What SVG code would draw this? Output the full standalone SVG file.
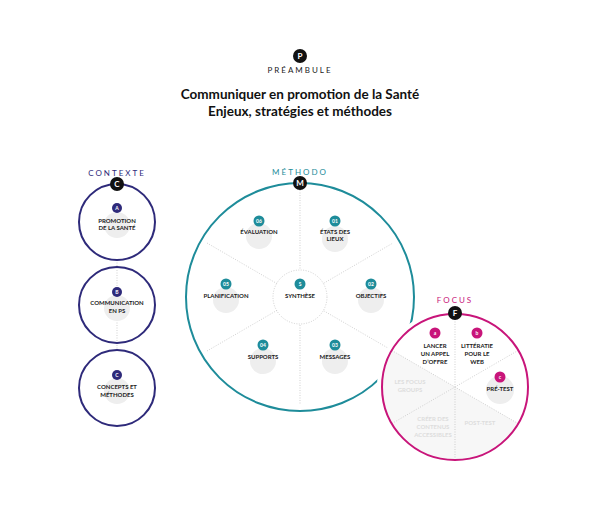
<svg xmlns="http://www.w3.org/2000/svg" width="600" height="532" viewBox="0 0 600 532">
<style>
text{font-family:"Lato","Liberation Sans",sans-serif;text-anchor:middle}
.t{font-size:6px;font-weight:bold;fill:#222}
.g{font-size:6px;font-weight:bold;fill:#ddd}
.bt{font-size:6px;font-weight:bold;fill:#fff}
.dot{stroke:#bbb;stroke-width:0.7;stroke-dasharray:1 1.5;fill:none}
.bg{fill:#eee}
</style>
<rect width="600" height="532" fill="#fff"/>
<g id="header">
<circle cx="300" cy="56" r="7" fill="#111"/><text x="300" y="59" class="bt" style="font-size:8px">P</text>
<text x="300" y="73" style="font-size:8px;letter-spacing:2px;fill:#222">PRÉAMBULE</text>
<text x="300" y="99" style="font-size:13.5px;font-weight:bold;fill:#111">Communiquer en promotion de la Santé</text>
<text x="300" y="116" style="font-size:13.5px;font-weight:bold;fill:#111">Enjeux, stratégies et méthodes</text>
</g>
<g id="contexte">
<text x="117" y="176" style="font-size:8px;letter-spacing:2px;fill:#2e2a7a">CONTEXTE</text>
<line x1="117" y1="260" x2="117" y2="350" class="dot"/>
<circle cx="117" cy="222" r="38" fill="none" stroke="#2e2a7a" stroke-width="2"/>
<circle cx="117" cy="305" r="38" fill="none" stroke="#2e2a7a" stroke-width="2"/>
<circle cx="117" cy="388" r="38" fill="none" stroke="#2e2a7a" stroke-width="2"/>
<circle cx="117" cy="184" r="7" fill="#111"/><text x="117" y="187" class="bt" style="font-size:8px">C</text>
</g>
<g id="ctxA"><circle cx="117" cy="225" r="13" class="bg"/><circle cx="117" cy="208" r="5" fill="#2e2a7a"/><text x="117" y="210" class="bt" style="font-size:5px">A</text><text x="117" y="223" class="t">PROMOTION</text><text x="117" y="230" class="t">DE LA SANTÉ</text></g>
<g id="ctxB"><circle cx="117" cy="308" r="13" class="bg"/><circle cx="117" cy="292" r="5" fill="#2e2a7a"/><text x="117" y="294" class="bt" style="font-size:5px">B</text><text x="117" y="305" class="t">COMMUNICATION</text><text x="117" y="313" class="t">EN PS</text></g>
<g id="ctxC"><circle cx="117" cy="391" r="13" class="bg"/><circle cx="117" cy="375" r="5" fill="#2e2a7a"/><text x="117" y="377" class="bt" style="font-size:5px">C</text><text x="117" y="389" class="t">CONCEPTS ET</text><text x="117" y="397" class="t">MÉTHODES</text></g>
<g id="connectors">
<line x1="300" y1="190" x2="300" y2="404" class="dot"/>
<line x1="207" y1="243" x2="393" y2="351" class="dot"/>
<line x1="207" y1="351" x2="393" y2="243" class="dot"/>
<circle cx="300" cy="297" r="27" fill="#fff" stroke="#bbb" stroke-width="0.7" stroke-dasharray="1 1.5"/>
</g>
<g id="methodo">
<text x="300" y="175" style="font-size:8px;letter-spacing:2px;fill:#1e8c9a">MÉTHODO</text>
<circle cx="300" cy="297" r="114" fill="none" stroke="#1e8c9a" stroke-width="2"/>
<circle cx="300" cy="183" r="7" fill="#111"/><text x="300" y="186" class="bt" style="font-size:8px">M</text>
</g>
<g id="m06"><circle cx="259" cy="236" r="13" class="bg"/><circle cx="259" cy="221" r="5.5" fill="#1e8c9a"/><text x="259" y="223" class="bt" style="font-size:5px">06</text><text x="259" y="234" class="t">ÉVALUATION</text></g>
<g id="m01"><circle cx="335" cy="239" r="13" class="bg"/><circle cx="335" cy="221" r="5.5" fill="#1e8c9a"/><text x="335" y="223" class="bt" style="font-size:5px">01</text><text x="335" y="234" class="t">ÉTATS DES</text><text x="335" y="241" class="t">LIEUX</text></g>
<g id="m05"><circle cx="226" cy="300" r="13" class="bg"/><circle cx="226" cy="284" r="5.5" fill="#1e8c9a"/><text x="226" y="286" class="bt" style="font-size:5px">05</text><text x="226" y="298" class="t">PLANIFICATION</text></g>
<g id="mS"><circle cx="300" cy="284" r="5.5" fill="#1e8c9a"/><text x="300" y="286" class="bt" style="font-size:5px">S</text><text x="300" y="298" class="t">SYNTHÈSE</text></g>
<g id="m02"><circle cx="371" cy="300" r="13" class="bg"/><circle cx="371" cy="284" r="5.5" fill="#1e8c9a"/><text x="371" y="286" class="bt" style="font-size:5px">02</text><text x="371" y="298" class="t">OBJECTIFS</text></g>
<g id="m04"><circle cx="263" cy="361" r="13" class="bg"/><circle cx="263" cy="345" r="5.5" fill="#1e8c9a"/><text x="263" y="347" class="bt" style="font-size:5px">04</text><text x="263" y="359" class="t">SUPPORTS</text></g>
<g id="m03"><circle cx="335" cy="361" r="13" class="bg"/><circle cx="335" cy="345" r="5.5" fill="#1e8c9a"/><text x="335" y="347" class="bt" style="font-size:5px">03</text><text x="335" y="359" class="t">MESSAGES</text></g>
<g id="focus">
<circle cx="455" cy="387" r="74" fill="#fff" stroke="#fff" stroke-width="8"/>
<path d="M455 387 L455 460 A73 73 0 0 1 392 423.5 Z" fill="#f7f7f7"/>
<path d="M455 387 L392 423.5 A73 73 0 0 1 392 350.5 Z" fill="#f7f7f7"/>
<path d="M455 387 L518 423.5 A73 73 0 0 1 455 460 Z" fill="#f7f7f7"/>
<line x1="455" y1="314" x2="455" y2="460" class="dot"/>
<line x1="392" y1="350.5" x2="518" y2="423.5" class="dot"/>
<line x1="392" y1="423.5" x2="518" y2="350.5" class="dot"/>
<text x="455" y="303" style="font-size:8px;letter-spacing:2px;fill:#c8157a">FOCUS</text>
<circle cx="455" cy="387" r="73" fill="none" stroke="#c8157a" stroke-width="2"/>
<circle cx="455" cy="313" r="7" fill="#111"/><text x="455" y="316" class="bt" style="font-size:8px">F</text>
</g>
<g id="fa"><circle cx="435" cy="333" r="5.5" fill="#c8157a"/><text x="435" y="335" class="bt" style="font-size:5px">a</text><text x="435" y="348" class="t">LANCER</text><text x="435" y="356" class="t">UN APPEL</text><text x="435" y="364" class="t">D’OFFRE</text></g>
<g id="fb"><circle cx="477" cy="333" r="5.5" fill="#c8157a"/><text x="477" y="335" class="bt" style="font-size:5px">b</text><text x="477" y="348" class="t">LITTÉRATIE</text><text x="477" y="356" class="t">POUR LE</text><text x="477" y="364" class="t">WEB</text></g>
<g id="fc"><circle cx="500" cy="390" r="14" class="bg"/><circle cx="500" cy="377" r="5.5" fill="#c8157a"/><text x="500" y="379" class="bt" style="font-size:5px">c</text><text x="500" y="391" class="t">PRÉ-TEST</text></g>
<g id="fgrey"><text x="410" y="384" class="g">LES FOCUS</text><text x="410" y="392" class="g">GROUPS</text>
<text x="433" y="421" class="g">CRÉER DES</text><text x="433" y="429" class="g">CONTENUS</text><text x="433" y="437" class="g">ACCESSIBLES</text>
<text x="480" y="425" class="g">POST-TEST</text></g>
</svg>
